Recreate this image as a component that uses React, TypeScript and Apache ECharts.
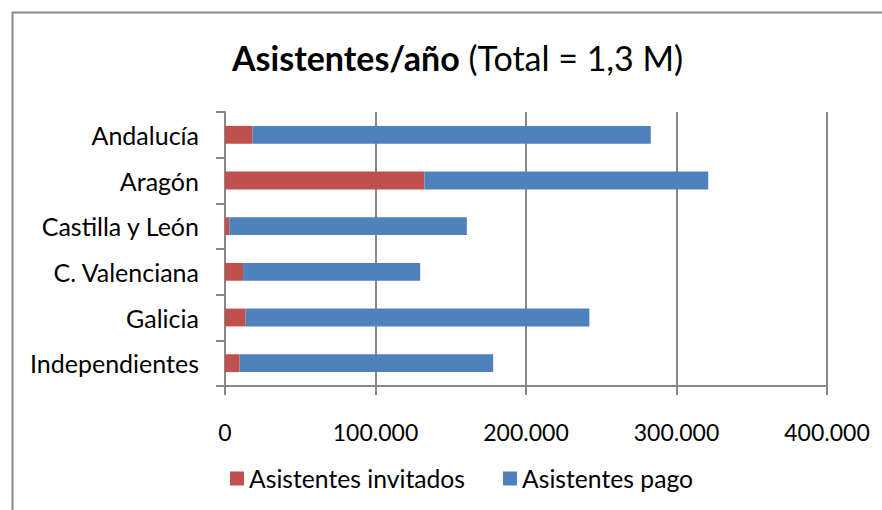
import React, { useEffect, useRef } from "react";
import * as echarts from "echarts";

const categories = ["Andalucía", "Aragón", "Castilla y León", "C. Valenciana", "Galicia", "Independientes"];
const invitados = [18300, 132500, 2900, 12000, 13700, 9700];
const pago = [264600, 188600, 157800, 117700, 228400, 168500];
const seriesNames = ["Asistentes invitados", "Asistentes pago"];
const titleBold = "Asistentes/año";
const titleNormal = "(Total = 1,3 M)";

const FONT = "Lato, 'Open Sans', sans-serif";
const GRAY = "#878787";

function fmt(v: number): string {
  return String(Math.round(v)).replace(/\B(?=(\d{3})+(?!\d))/g, ".");
}

export default function App() {
  const ref = useRef<HTMLDivElement>(null);
  useEffect(() => {
    if (!ref.current) return;
    const chart = echarts.init(ref.current, null, { renderer: "svg" });
    chart.setOption({
      animation: false,
      backgroundColor: "#ffffff",
      textStyle: { fontFamily: FONT },
      title: {
        text: `{b|${titleBold}}{n| ${titleNormal}}`,
        left: 227,
        top: 35,
        textStyle: {
          rich: {
            b: { fontFamily: FONT, fontWeight: "bold", fontSize: 34, color: "#000" },
            n: { fontFamily: FONT, fontWeight: "normal", fontSize: 34, color: "#000" },
          },
        },
      },
      graphic: [
        {
          type: "rect",
          shape: { x: 12.5, y: 12.5, width: 1200, height: 1200 },
          style: { fill: "none", stroke: GRAY, lineWidth: 2 },
          silent: true,
        },
      ],
      legend: {
        left: 225,
        top: 461,
        itemWidth: 14,
        itemHeight: 14,
        itemGap: 38,
        icon: "rect",
        textStyle: { fontFamily: FONT, fontSize: 24.7, color: "#000" },
        data: seriesNames,
      },
      grid: { left: 225, right: 55, top: 112, bottom: 124, containLabel: false },
      xAxis: {
        type: "value",
        min: 0,
        max: 400000,
        interval: 100000,
        axisLine: { show: true, lineStyle: { color: GRAY, width: 2 } },
        axisTick: { show: true, length: 9, lineStyle: { color: GRAY, width: 2 } },
        splitLine: { show: true, lineStyle: { color: GRAY, width: 2 } },
        axisLabel: {
          margin: 34,
          fontFamily: FONT,
          fontSize: 23,
          color: "#000",
          formatter: (v: number) => fmt(v),
        },
      },
      yAxis: {
        type: "category",
        inverse: true,
        data: categories,
        axisLine: { show: true, lineStyle: { color: GRAY, width: 2 } },
        axisTick: { show: true, length: 9, lineStyle: { color: GRAY, width: 2 } },
        axisLabel: { margin: 26, fontFamily: FONT, fontSize: 25, color: "#000" },
      },
      series: [
        {
          name: seriesNames[0],
          type: "bar",
          stack: "total",
          data: invitados,
          barCategoryGap: "61%",
          itemStyle: { color: "#C0504D" },
        },
        {
          name: seriesNames[1],
          type: "bar",
          stack: "total",
          data: pago,
          barCategoryGap: "61%",
          itemStyle: { color: "#4F81BD" },
        },
      ],
    });
    return () => chart.dispose();
  }, []);
  return (
    <div
      ref={ref}
      style={{ position: "fixed", left: 0, top: 0, width: 882, height: 510 }}
    />
  );
}
